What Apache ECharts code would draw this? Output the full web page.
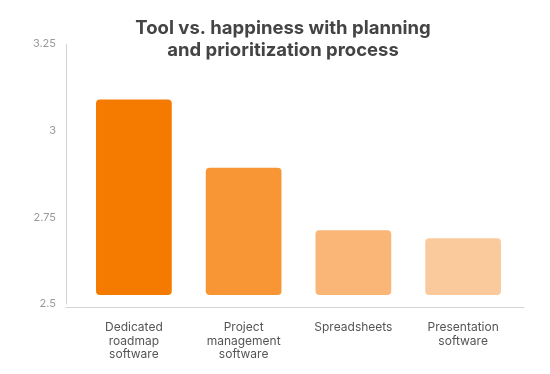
<!DOCTYPE html>
<html><head><meta charset="utf-8">
<script src="https://cdn.jsdelivr.net/npm/echarts@6/dist/echarts.min.js"></script>
<style>html,body{margin:0;padding:0;background:#fff}#c{width:550px;height:374px}</style>
</head><body><div id="c"></div>
<script>
const titleText = 'Tool vs. happiness with planning\nand prioritization process';
const categories = ['Dedicated\nroadmap\nsoftware', 'Project\nmanagement\nsoftware', 'Spreadsheets', 'Presentation\nsoftware'];
const values = [3.09, 2.893, 2.713, 2.69];
const barColors = ['#F57A00', '#F89535', '#FAB676', '#FBCA9C'];
const yMin = 2.5, yMax = 3.25, yInterval = 0.25;

const chart = echarts.init(document.getElementById('c'), null, {renderer: 'canvas'});
const font = 'Inter, "Liberation Sans", Arial, sans-serif';
chart.setOption({
  animation: false,
  title: {
    text: titleText, left: 278, top: 12, textAlign: 'center',
    textStyle: {fontFamily: font, fontSize: 18.5, fontWeight: 'bold', color: '#444', lineHeight: 22}
  },
  grid: [
    {left: 66, right: 26, top: 44, bottom: 70},
    {left: 79, right: 32, top: 44, bottom: 70}
  ],
  xAxis: [
    {gridIndex: 0, type: 'value', min: 0, max: 1, offset: 3,
     axisLine: {show: true, lineStyle: {color: '#d4d4d4', width: 1}},
     axisTick: {show: false}, axisLabel: {show: false}, splitLine: {show: false}},
    {gridIndex: 1, type: 'category', data: categories,
     axisLine: {show: false}, axisTick: {show: false},
     axisLabel: {margin: 17, interval: 0, fontFamily: font, fontSize: 12, color: '#555', lineHeight: 13.5}}
  ],
  yAxis: [
    {gridIndex: 0, type: 'value', min: yMin, max: yMax, interval: yInterval,
     axisLine: {show: true, lineStyle: {color: '#d4d4d4', width: 1}},
     axisTick: {show: false}, splitLine: {show: false},
     axisLabel: {margin: 10, fontFamily: font, fontSize: 11, color: '#999',
       formatter: v => String(Math.round(v * 100) / 100)}},
    {gridIndex: 1, type: 'value', min: yMin, max: yMax, interval: yInterval, show: false}
  ],
  series: [{
    type: 'custom', xAxisIndex: 1, yAxisIndex: 1,
    data: values.map((v, i) => [i, v]),
    renderItem: function (params, api) {
      const i = api.value(0);
      const top = api.coord([i, api.value(1)]);
      const base = api.coord([i, yMin]);
      const bw = api.size([1, 0])[0] * 0.69;
      const bottom = base[1] - 9;
      return {
        type: 'rect',
        shape: {x: top[0] - bw / 2, y: top[1], width: bw, height: bottom - top[1], r: 4},
        style: {fill: barColors[i]}
      };
    }
  }]
});
</script></body></html>
